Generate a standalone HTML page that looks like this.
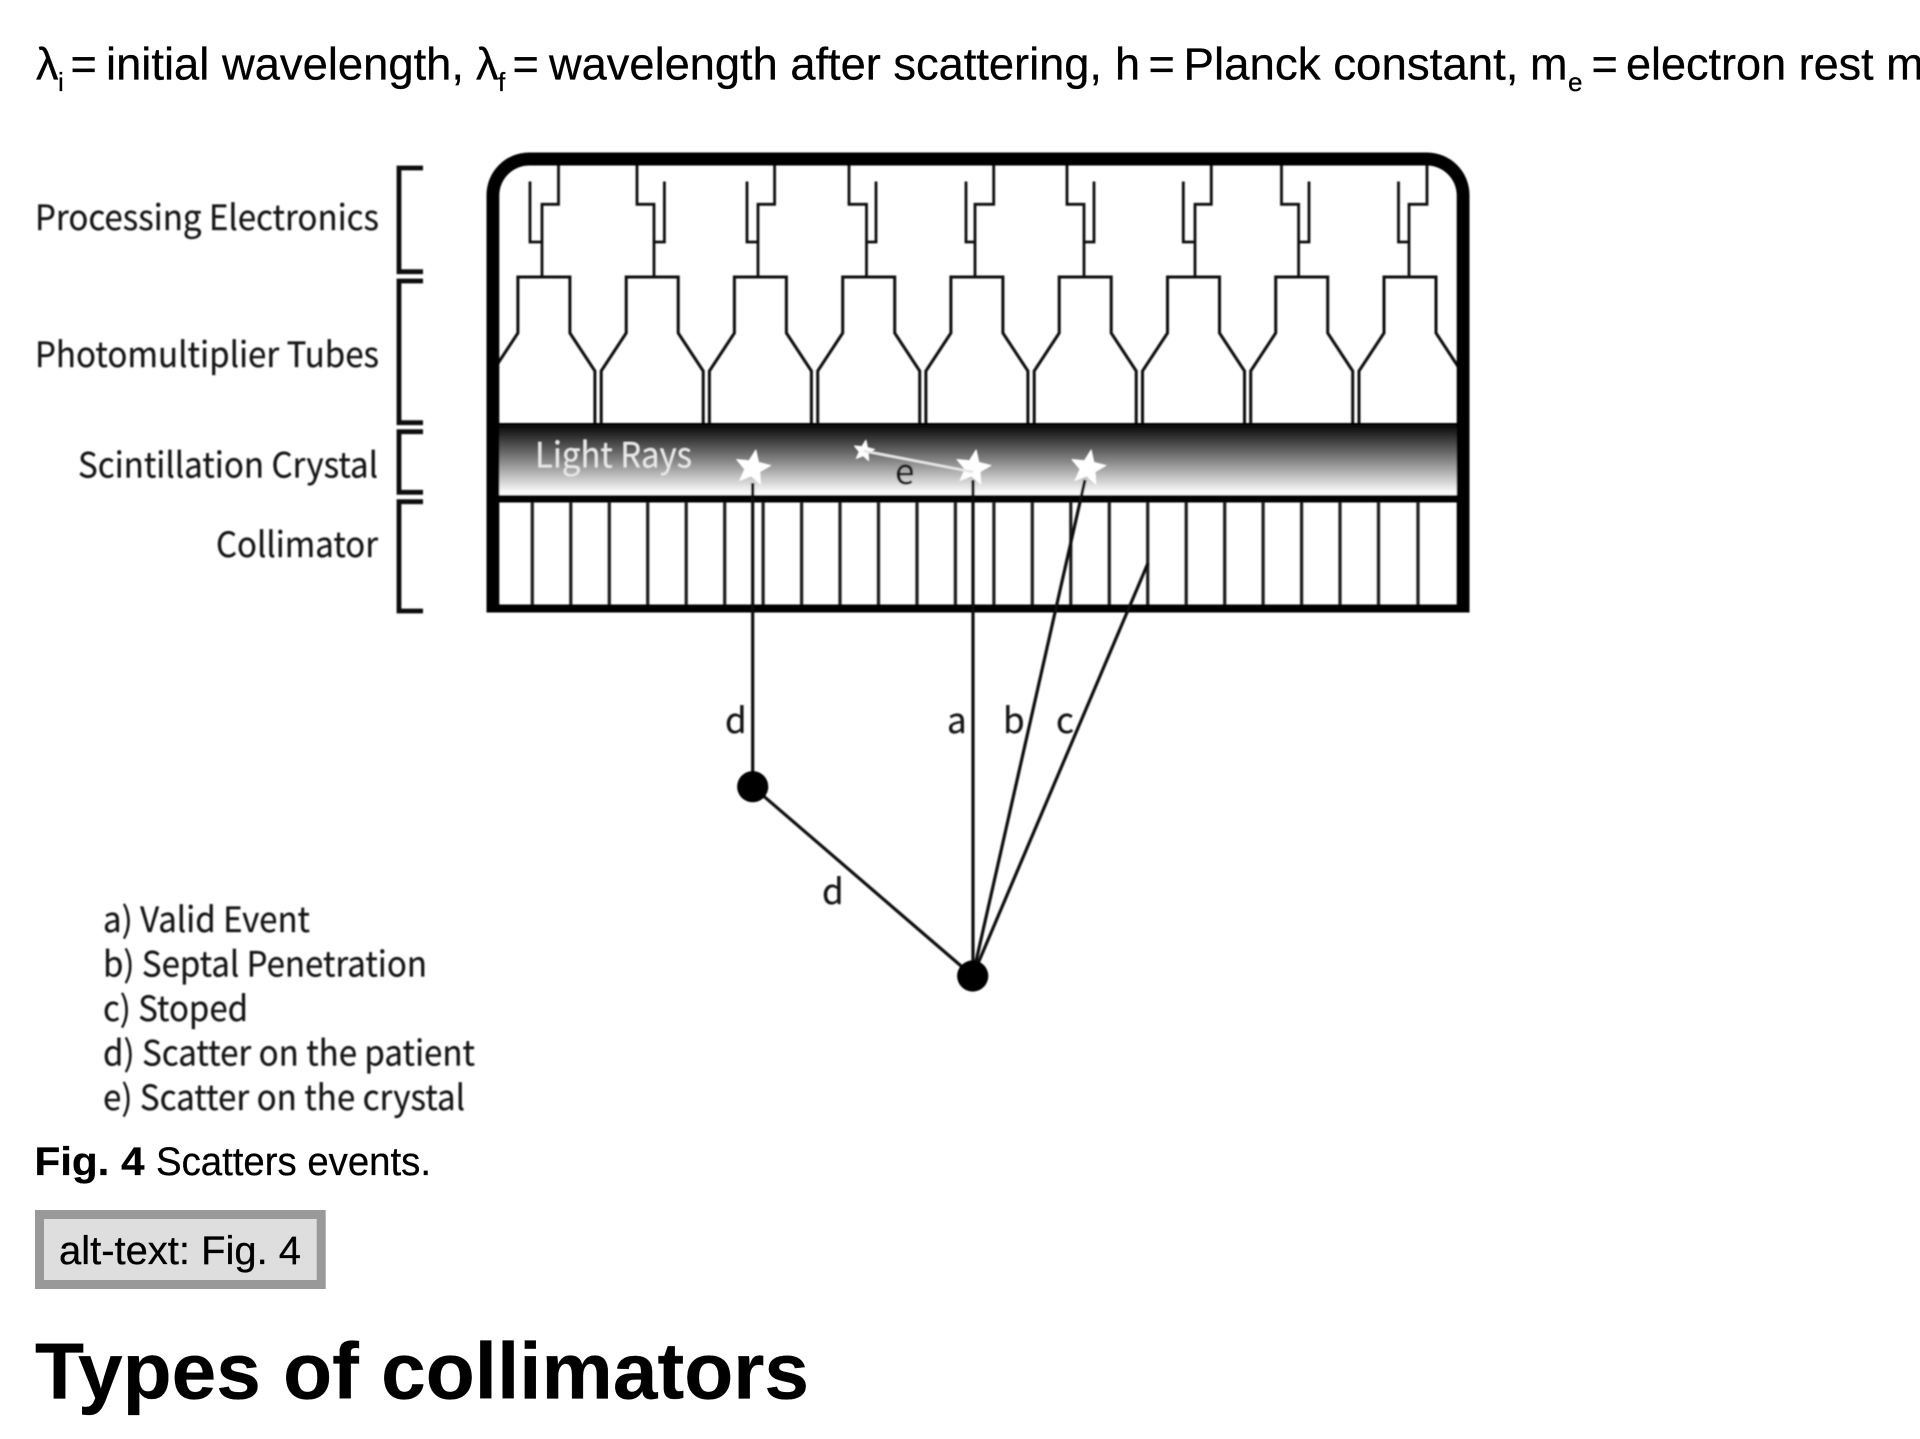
<!DOCTYPE html>
<html lang="en">
<head>
<meta charset="utf-8">
<title>Scatters events</title>
<style>
html,body{margin:0;padding:0;background:#fff;width:1920px;height:1439px;overflow:hidden}
svg{display:block;position:absolute;left:0;top:0}
.body{font-family:"Liberation Sans",Arial,sans-serif;fill:#000;stroke:#000;stroke-width:.3}
.lab{font-family:"Noto Sans CJK JP","Liberation Sans",sans-serif;font-size:35px;fill:#161616;stroke:#161616;stroke-width:.25}
</style>
</head>
<body>
<svg width="1920" height="1439" viewBox="0 0 1920 1439" xmlns="http://www.w3.org/2000/svg">
<defs>
<linearGradient id="cry" x1="0" y1="0" x2="0" y2="1">
<stop offset="0" stop-color="#000"/><stop offset="0.5" stop-color="#808080"/><stop offset="0.93" stop-color="#f4f4f4"/><stop offset="1" stop-color="#fff"/>
</linearGradient>
<filter id="soft" x="-2%" y="-2%" width="104%" height="104%"><feGaussianBlur stdDeviation="0.7"/></filter>
<filter id="soft2" x="-2%" y="-2%" width="104%" height="104%"><feGaussianBlur stdDeviation="0.35"/></filter>
</defs>

<g filter="url(#soft2)">
<g class="body" font-size="45">
<text x="36" y="79.5">λ</text>
<text x="58" y="91" font-size="26">i</text>
<text x="70.5" y="79.5">=</text>
<text x="106" y="79.5" textLength="358" lengthAdjust="spacingAndGlyphs">initial wavelength,</text>
<text x="476" y="79.5">λ</text>
<text x="498" y="91" font-size="26">f</text>
<text x="512.5" y="79.5">=</text>
<text x="549" y="79.5" textLength="553" lengthAdjust="spacingAndGlyphs">wavelength after scattering,</text>
<text x="1115" y="79.5">h</text>
<text x="1148.5" y="79.5">=</text>
<text x="1183.5" y="79.5" textLength="335" lengthAdjust="spacingAndGlyphs">Planck constant,</text>
<text x="1530" y="79.5">m</text>
<text x="1568" y="91" font-size="26">e</text>
<text x="1591.5" y="79.5">=</text>
<text x="1626" y="79.5">electron rest mass</text>
</g>
<g class="body" font-size="40">
<text x="34.5" y="1175" font-weight="bold" textLength="110" lengthAdjust="spacingAndGlyphs">Fig. 4</text>
<text x="156" y="1175" textLength="275" lengthAdjust="spacingAndGlyphs">Scatters events.</text>
</g>
<rect x="39.5" y="1214.5" width="281.7" height="70" fill="#dedede" stroke="#999" stroke-width="9"/>
<text class="body" x="59" y="1264" font-size="40" textLength="242" lengthAdjust="spacingAndGlyphs">alt-text: Fig. 4</text>
<text class="body" x="35" y="1398.5" font-size="80" font-weight="bold" textLength="774" lengthAdjust="spacingAndGlyphs">Types of collimators</text>
</g>

<g filter="url(#soft)">
<!-- labels -->
<text class="lab" x="35" y="230" textLength="344" lengthAdjust="spacingAndGlyphs">Processing Electronics</text>
<text class="lab" x="35" y="367" textLength="344" lengthAdjust="spacingAndGlyphs">Photomultiplier Tubes</text>
<text class="lab" x="78" y="477.5" textLength="300" lengthAdjust="spacingAndGlyphs">Scintillation Crystal</text>
<text class="lab" x="216" y="557" textLength="162" lengthAdjust="spacingAndGlyphs">Collimator</text>

<!-- brackets -->
<g fill="none" stroke="#111" stroke-width="4.8">
<path d="M423 168H399V271.7H423"/>
<path d="M423 281H399V422.7H423"/>
<path d="M423 431.7H399V492.3H423"/>
<path d="M423 501.7H399V611H423"/>
</g>

<!-- processing electronics -->
<g fill="none" stroke="#111" stroke-width="2.8">
<path d="M558.5 165V204.3H542V277M530 181.5V242H542"/>
<path d="M637 165V204.3H654V277M664.4 181.5V242H654"/>
<path d="M774.6 165V204.3H758V277M747 181.5V242H758"/>
<path d="M849 165V204.3H866.5V277M876 181.5V242H866.5"/>
<path d="M993.7 165V204.3H975V277M966 181.5V242H975"/>
<path d="M1067 165V204.3H1084V277M1094 181.5V242H1084"/>
<path d="M1211.3 165V204.3H1195V277M1183.3 181.5V242H1195"/>
<path d="M1281.5 165V204.3H1298.6V277M1309 181.5V242H1298.6"/>
<path d="M1427 165V204.3H1409V277M1398.5 181.5V242H1409"/>
</g>

<!-- tubes -->
<g fill="none" stroke="#111" stroke-width="3">
<path d="M492.9 423V371L517.9 333V277H569.9V333L594.9 371V423"/>
<path d="M601.2 423V371L626.2 333V277H678.2V333L703.2 371V423"/>
<path d="M709.4 423V371L734.4 333V277H786.4V333L811.4 371V423"/>
<path d="M817.7 423V371L842.7 333V277H894.7V333L919.7 371V423"/>
<path d="M925.9 423V371L950.9 333V277H1002.9V333L1027.9 371V423"/>
<path d="M1034.2 423V371L1059.2 333V277H1111.2V333L1136.2 371V423"/>
<path d="M1142.5 423V371L1167.5 333V277H1219.5V333L1244.5 371V423"/>
<path d="M1250.7 423V371L1275.7 333V277H1327.7V333L1352.7 371V423"/>
<path d="M1359 423V371L1384 333V277H1436V333L1461 371V423"/>
</g>

<!-- crystal -->
<rect x="499" y="423" width="958" height="72.5" fill="url(#cry)"/>
<rect x="499" y="495" width="958" height="7.5" fill="#000"/>

<!-- septa -->
<g stroke="#1a1a1a" stroke-width="3.2">
<path d="M532.3 502V605M570.8 502V605M609.3 502V605M647.7 502V605M686.2 502V605M724.7 502V605M763.1 502V605M801.6 502V605M840 502V605M878.5 502V605M917 502V605M955.4 502V605M993.9 502V605M1032.3 502V605M1070.8 502V605M1109.3 502V605M1147.7 502V605M1186.2 502V605M1224.7 502V605M1263.1 502V605M1301.6 502V605M1340 502V605M1378.5 502V605M1418 502V605" fill="none"/>
</g>

<!-- outer casing -->
<path fill="#000" fill-rule="evenodd" d="M486.5 612.5V195A42.5 42.5 0 0 1 529 152.5H1427A42.5 42.5 0 0 1 1469.5 195V612.5ZM499.3 604.5H1456.7V195A30 30 0 0 0 1426.7 165.5H529.3A30 30 0 0 0 499.3 195Z"/>

<!-- stars -->
<g fill="#fff">
<polygon transform="translate(752.7 468) rotate(10) scale(19)" points="0,-1 .265,-.364 .951,-.309 .428,.139 .588,.809 0,.45 -.588,.809 -.428,.139 -.951,-.309 -.265,-.364"/>
<polygon transform="translate(973 468) rotate(10) scale(19)" points="0,-1 .265,-.364 .951,-.309 .428,.139 .588,.809 0,.45 -.588,.809 -.428,.139 -.951,-.309 -.265,-.364"/>
<polygon transform="translate(1088 468) rotate(10) scale(19)" points="0,-1 .265,-.364 .951,-.309 .428,.139 .588,.809 0,.45 -.588,.809 -.428,.139 -.951,-.309 -.265,-.364"/>
<polygon transform="translate(864 451) rotate(10) scale(11.5)" points="0,-1 .265,-.364 .951,-.309 .428,.139 .588,.809 0,.45 -.588,.809 -.428,.139 -.951,-.309 -.265,-.364"/>
</g>
<line x1="864" y1="451" x2="973" y2="472" stroke="#e6e6e6" stroke-width="2.6"/>
<text class="lab" x="535" y="467.7" textLength="157" lengthAdjust="spacingAndGlyphs" style="fill:#e8e8e8;stroke:none">Light Rays</text>
<text class="lab" x="895" y="484">e</text>

<!-- rays -->
<g stroke="#111" stroke-width="3.2" fill="none">
<path d="M752.7 483V786.7"/>
<path d="M973 480V976"/>
<path d="M1085 480L972.7 976"/>
<path d="M1148 563L972.7 976"/>
<path d="M752.7 786.7L972.7 976"/>
</g>
<circle cx="752.7" cy="786.7" r="15.6" fill="#000"/>
<circle cx="972.7" cy="976" r="15.6" fill="#000"/>

<text class="lab" x="725" y="733">d</text>
<text class="lab" x="947" y="733">a</text>
<text class="lab" x="1003" y="733">b</text>
<text class="lab" x="1056" y="733">c</text>
<text class="lab" x="822" y="904">d</text>

<!-- legend -->
<text class="lab" x="103" y="932" textLength="207" lengthAdjust="spacingAndGlyphs">a) Valid Event</text>
<text class="lab" x="103" y="976.7" textLength="324" lengthAdjust="spacingAndGlyphs">b) Septal Penetration</text>
<text class="lab" x="103" y="1021" textLength="145" lengthAdjust="spacingAndGlyphs">c) Stoped</text>
<text class="lab" x="103" y="1065.5" textLength="372" lengthAdjust="spacingAndGlyphs">d) Scatter on the patient</text>
<text class="lab" x="103" y="1110" textLength="362" lengthAdjust="spacingAndGlyphs">e) Scatter on the crystal</text>
</g>
</svg>
</body>
</html>
